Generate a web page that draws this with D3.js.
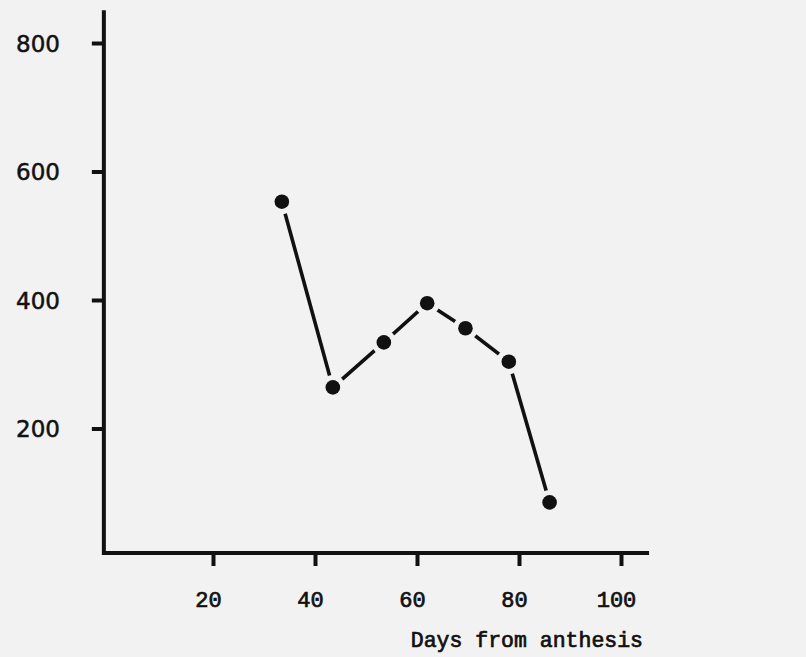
<!DOCTYPE html>
<html>
<head>
<meta charset="utf-8">
<script src="https://cdn.jsdelivr.net/npm/d3@7"></script>
<style>
  html, body { margin: 0; padding: 0; background: #f2f2f2; }
  svg { display: block; }
</style>
</head>
<body>
<svg id="chart" width="806" height="657"></svg>
<script>
// Data
const days = [33.5, 43.5, 53.5, 62, 69.5, 78, 86];
const values = [553, 264, 334, 395, 356, 304, 85];
const xTicks = [20, 40, 60, 80, 100];
const yTicks = [200, 400, 600, 800];
const xTitle = "Days from anthesis";

const bg = "#f2f2f2";
const ink = "#111";
const svg = d3.select("#chart");
svg.append("rect").attr("width", 806).attr("height", 657).attr("fill", bg);

const x = d3.scaleLinear().domain([0, 100]).range([111, 621]);
const y = d3.scaleLinear().domain([0, 800]).range([557, 43]);

const axisLeftX = x(-1.4);
const axisBottomY = 553;
const xEnd = x(105.5);
const yTop = y(851);

// Y axis
const gy = svg.append("g").attr("transform", `translate(${axisLeftX},0)`)
  .call(d3.axisLeft(y).tickValues(yTicks).tickSize(12).tickSizeOuter(0).tickPadding(0).tickFormat(d3.format("d")));
gy.select(".domain").remove();
gy.selectAll(".tick line").attr("stroke", ink).attr("stroke-width", 4);
gy.selectAll(".tick text").attr("x", 60 - axisLeftX).attr("text-anchor", "end")
  .attr("dy", "0.36em")
  .style("font-family", "'DejaVu Sans', sans-serif").style("font-size", "23px")
  .attr("fill", ink).attr("stroke", ink).attr("stroke-width", 0.5);

// X axis
const gx = svg.append("g").attr("transform", `translate(0,${axisBottomY})`)
  .call(d3.axisBottom(x).tickValues(xTicks).tickSize(13).tickSizeOuter(0).tickPadding(0).tickFormat(d3.format("d")));
gx.select(".domain").remove();
gx.selectAll(".tick line").attr("stroke", ink).attr("stroke-width", 4);
gx.selectAll(".tick text").attr("y", 54).attr("dy", 0).attr("dx", -5)
  .style("font-family", "'Liberation Mono', monospace").style("font-size", "22px")
  .attr("fill", ink).attr("stroke", ink).attr("stroke-width", 0.7);

// Axis lines
svg.append("path")
  .attr("d", `M${axisLeftX},${yTop}V${axisBottomY}H${xEnd}`)
  .attr("fill", "none").attr("stroke", ink).attr("stroke-width", 4);

// X title
svg.append("text").attr("x", 643).attr("y", 647).attr("text-anchor", "end")
  .style("font-family", "'Liberation Mono', monospace").style("font-size", "21.5px")
  .attr("fill", ink).attr("stroke", ink).attr("stroke-width", 0.7).text(xTitle);

// Data line
const pts = days.map((d, i) => [d, values[i]]);
svg.append("path").datum(pts)
  .attr("d", d3.line().x(d => x(d[0])).y(d => y(d[1])))
  .attr("fill", "none").attr("stroke", ink).attr("stroke-width", 3.6);

// Halo + markers
svg.selectAll("circle.halo").data(pts).enter().append("circle")
  .attr("class", "halo").attr("cx", d => x(d[0])).attr("cy", d => y(d[1]))
  .attr("r", 12.5).attr("fill", bg);
svg.selectAll("circle.dot").data(pts).enter().append("circle")
  .attr("class", "dot").attr("cx", d => x(d[0])).attr("cy", d => y(d[1]))
  .attr("r", 7.3).attr("fill", ink);
</script>
</body>
</html>
